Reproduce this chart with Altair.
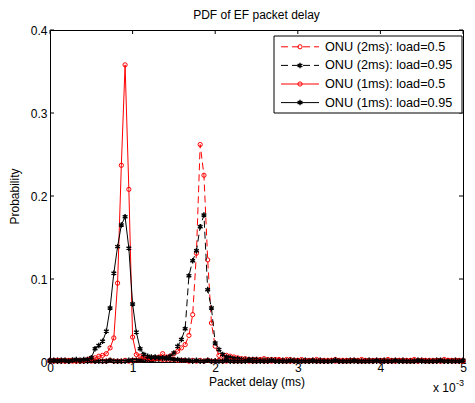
import altair as alt
import pandas as pd

# histogram bin width (ms); the x axis is shown in units of 1e-3 s
BIN_MS = 5 / 110

onu2_05 = [
    0.001, 0.002, 0.001, 0.001, 0.002, 0.001, 0.001, 0.002, 0.001, 0.001,
    0.002, 0.001, 0.001, 0.002, 0.001, 0.001, 0.002, 0.001, 0.001, 0.001,
    0.002, 0.001, 0.002, 0.002, 0.002, 0.003, 0.003, 0.004, 0.005, 0.006,
    0.010, 0.006, 0.007, 0.010, 0.013, 0.017, 0.021, 0.032, 0.057, 0.131,
    0.262, 0.225, 0.123, 0.047, 0.019, 0.008, 0.007, 0.008, 0.007, 0.006,
    0.005, 0.004, 0.004, 0.003, 0.003, 0.003, 0.003, 0.004, 0.003, 0.003,
    0.003, 0.003, 0.002, 0.003, 0.003, 0.002, 0.002, 0.003, 0.002, 0.002,
    0.002, 0.003, 0.002, 0.002, 0.002, 0.002, 0.003, 0.002, 0.002, 0.002,
    0.002, 0.002, 0.002, 0.003, 0.002, 0.002, 0.002, 0.002, 0.002, 0.002,
    0.003, 0.002, 0.002, 0.002, 0.002, 0.002, 0.002, 0.003, 0.002, 0.002,
    0.002, 0.002, 0.002, 0.002, 0.002, 0.003, 0.002, 0.002, 0.002, 0.002,
    0.002,
]

onu2_095 = [
    0.001, 0.001, 0.002, 0.001, 0.001, 0.001, 0.002, 0.001, 0.001, 0.001,
    0.001, 0.002, 0.001, 0.001, 0.001, 0.001, 0.002, 0.001, 0.001, 0.001,
    0.001, 0.002, 0.002, 0.002, 0.002, 0.002, 0.003, 0.002, 0.003, 0.003,
    0.004, 0.005, 0.007, 0.011, 0.019, 0.027, 0.040, 0.104, 0.122, 0.134,
    0.163, 0.177, 0.087, 0.065, 0.023, 0.015, 0.009, 0.006, 0.005, 0.004,
    0.004, 0.003, 0.003, 0.003, 0.003, 0.003, 0.002, 0.002, 0.002, 0.002,
    0.002, 0.001, 0.002, 0.001, 0.001, 0.002, 0.001, 0.001, 0.002, 0.001,
    0.001, 0.001, 0.002, 0.001, 0.001, 0.001, 0.002, 0.001, 0.001, 0.001,
    0.002, 0.001, 0.001, 0.001, 0.001, 0.002, 0.001, 0.001, 0.001, 0.002,
    0.001, 0.001, 0.001, 0.001, 0.002, 0.001, 0.001, 0.001, 0.001, 0.002,
    0.001, 0.001, 0.001, 0.002, 0.001, 0.001, 0.001, 0.001, 0.002, 0.001,
    0.001,
]

onu1_05 = [
    0.002, 0.001, 0.002, 0.002, 0.001, 0.002, 0.002, 0.001, 0.002, 0.002,
    0.003, 0.004, 0.005, 0.007, 0.008, 0.010, 0.017, 0.029, 0.095, 0.237,
    0.358, 0.208, 0.030, 0.009, 0.007, 0.006, 0.005, 0.004, 0.004, 0.004,
    0.003, 0.003, 0.003, 0.003, 0.002, 0.002, 0.002, 0.001, 0.002, 0.001,
    0.002, 0.001, 0.002, 0.001, 0.001, 0.002, 0.001, 0.001, 0.002, 0.001,
    0.001, 0.001, 0.002, 0.001, 0.001, 0.001, 0.002, 0.001, 0.001, 0.001,
    0.001, 0.002, 0.001, 0.001, 0.001, 0.001, 0.002, 0.001, 0.001, 0.001,
    0.002, 0.001, 0.001, 0.001, 0.001, 0.002, 0.001, 0.001, 0.001, 0.001,
    0.001, 0.002, 0.001, 0.001, 0.001, 0.001, 0.001, 0.002, 0.001, 0.001,
    0.001, 0.001, 0.001, 0.002, 0.001, 0.001, 0.001, 0.001, 0.001, 0.002,
    0.001, 0.001, 0.001, 0.001, 0.001, 0.001, 0.002, 0.001, 0.001, 0.001,
    0.001,
]

onu1_095 = [
    0.002, 0.002, 0.001, 0.002, 0.002, 0.001, 0.002, 0.003, 0.002, 0.003,
    0.003, 0.005, 0.016, 0.020, 0.025, 0.037, 0.065, 0.107, 0.139, 0.165,
    0.175, 0.137, 0.070, 0.036, 0.016, 0.009, 0.007, 0.006, 0.006, 0.005,
    0.005, 0.004, 0.004, 0.003, 0.003, 0.002, 0.002, 0.002, 0.001, 0.002,
    0.001, 0.001, 0.002, 0.001, 0.001, 0.001, 0.001, 0.002, 0.001, 0.001,
    0.001, 0.001, 0.001, 0.002, 0.001, 0.001, 0.001, 0.001, 0.001, 0.002,
    0.001, 0.001, 0.001, 0.001, 0.002, 0.001, 0.001, 0.001, 0.001, 0.001,
    0.002, 0.001, 0.001, 0.001, 0.001, 0.001, 0.002, 0.001, 0.001, 0.001,
    0.001, 0.002, 0.001, 0.001, 0.001, 0.001, 0.001, 0.002, 0.001, 0.001,
    0.001, 0.001, 0.002, 0.001, 0.001, 0.001, 0.001, 0.001, 0.002, 0.001,
    0.001, 0.001, 0.001, 0.001, 0.002, 0.001, 0.001, 0.001, 0.001, 0.001,
    0.002,
]

labels = [
    "ONU (2ms): load=0.5",
    "ONU (2ms): load=0.95",
    "ONU (1ms): load=0.5",
    "ONU (1ms): load=0.95",
]
series = [onu2_05, onu2_095, onu1_05, onu1_095]
x_ticks = [0, 1, 2, 3, 4, 5]
y_ticks = [0, 0.1, 0.2, 0.3, 0.4]

FONT = "Liberation Sans"
W, H = 413, 332
TL = 4
STAR = "M0,-1L0,1M-0.87,-0.5L0.87,0.5M-0.87,0.5L0.87,-0.5"
styles = [
    dict(color="#ff0000", dash=[7, 4], shape="circle", size=18, sw=1),
    dict(color="#000000", dash=[7, 4], shape=STAR, size=30, sw=1.4),
    dict(color="#ff0000", dash=None, shape="circle", size=18, sw=1),
    dict(color="#000000", dash=None, shape=STAR, size=30, sw=1.4),
]

xs = alt.Scale(domain=[0, 5], nice=False)
ys = alt.Scale(domain=[0, 0.4], nice=False)
x_axis = alt.Axis(values=x_ticks, format="~g", title="Packet delay (ms)", tickSize=0,
                  domain=False, grid=False, labelPadding=0, titlePadding=3, labelFlush=False)
y_axis = alt.Axis(values=y_ticks, format="~g", title="Probability", tickSize=0,
                  domain=False, grid=False, labelPadding=3, titlePadding=9)

layers = []
for name, vals, st in zip(labels, series, styles):
    df = pd.DataFrame({
        "delay": [i * BIN_MS for i in range(len(vals))],
        "prob": vals,
        "series": name,
    })
    base = alt.Chart(df).encode(
        x=alt.X("delay:Q", scale=xs, axis=x_axis),
        y=alt.Y("prob:Q", scale=ys, axis=y_axis),
    )
    lk = dict(color=st["color"], strokeWidth=1)
    if st["dash"]:
        lk["strokeDash"] = st["dash"]
    layers.append(base.mark_line(**lk))
    layers.append(base.mark_point(shape=st["shape"], size=st["size"], filled=False,
                                  color=st["color"], strokeWidth=st["sw"], opacity=1))

# inward ticks on all four sides (MATLAB box style)
xt = pd.DataFrame({"t": x_ticks})
yt = pd.DataFrame({"t": y_ticks})
tick_layers = [
    alt.Chart(xt).mark_rule(color="black", strokeWidth=1).encode(
        x=alt.X("t:Q", scale=xs, axis=x_axis), y=alt.value(H), y2=alt.value(H - TL)),
    alt.Chart(xt).mark_rule(color="black", strokeWidth=1).encode(
        x=alt.X("t:Q", scale=xs, axis=x_axis), y=alt.value(0), y2=alt.value(TL)),
    alt.Chart(yt).mark_rule(color="black", strokeWidth=1).encode(
        y=alt.Y("t:Q", scale=ys, axis=y_axis), x=alt.value(0), x2=alt.value(TL)),
    alt.Chart(yt).mark_rule(color="black", strokeWidth=1).encode(
        y=alt.Y("t:Q", scale=ys, axis=y_axis), x=alt.value(W), x2=alt.value(W - TL)),
]

# legend box
one = pd.DataFrame({"k": [0]})
LX = W - 189
legend_layers = [
    alt.Chart(one).mark_rect(fill="white", stroke="black", strokeWidth=1).encode(
        x=alt.value(LX), x2=alt.value(W - 1), y=alt.value(6), y2=alt.value(83))
]
leg_y = [16.8, 35.4, 54.0, 72.6]
for name, st, ly in zip(labels, styles, leg_y):
    rk = dict(color=st["color"], strokeWidth=1)
    if st["dash"]:
        rk["strokeDash"] = st["dash"]
    legend_layers.append(alt.Chart(one).mark_rule(**rk).encode(
        x=alt.value(LX + 7), x2=alt.value(LX + 45), y=alt.value(ly)))
    legend_layers.append(alt.Chart(one).mark_point(
        shape=st["shape"], size=st["size"], filled=False, color=st["color"],
        strokeWidth=st["sw"], opacity=1).encode(x=alt.value(LX + 26), y=alt.value(ly)))
    legend_layers.append(alt.Chart(pd.DataFrame({"label": [name]})).mark_text(
        align="left", baseline="middle", fontSize=12.7, font=FONT, color="black").encode(
        x=alt.value(LX + 51), y=alt.value(ly), text="label:N"))

mult = alt.Chart(pd.DataFrame({"t": ["x 10"]})).mark_text(
    align="left", baseline="alphabetic", fontSize=12, font=FONT, color="black").encode(
    x=alt.value(W - 30), y=alt.value(H + 30), text="t:N")
sup = alt.Chart(pd.DataFrame({"t": ["-3"]})).mark_text(
    align="left", baseline="alphabetic", fontSize=9, font=FONT, color="black").encode(
    x=alt.value(W - 7), y=alt.value(H + 24), text="t:N")

chart = (
    alt.layer(*layers, *tick_layers, *legend_layers, mult, sup)
    .properties(
        width=W, height=H,
        title=alt.TitleParams("PDF of EF packet delay"),
        padding={"left": 42, "top": 22, "right": 4, "bottom": 33},
        autosize=alt.AutoSizeParams(type="none"),
    )
    .configure(font=FONT, background="white")
    .configure_view(stroke="black", strokeWidth=1)
    .configure_axis(labelFontSize=12, titleFontSize=12, labelColor="black",
                    titleColor="black", titleFontWeight="normal",
                    labelFont=FONT, titleFont=FONT)
    .configure_title(fontSize=12, fontWeight="normal", color="black", font=FONT, offset=2)
)

chart.save("out.html", embed_options={"renderer": "svg", "actions": False})
